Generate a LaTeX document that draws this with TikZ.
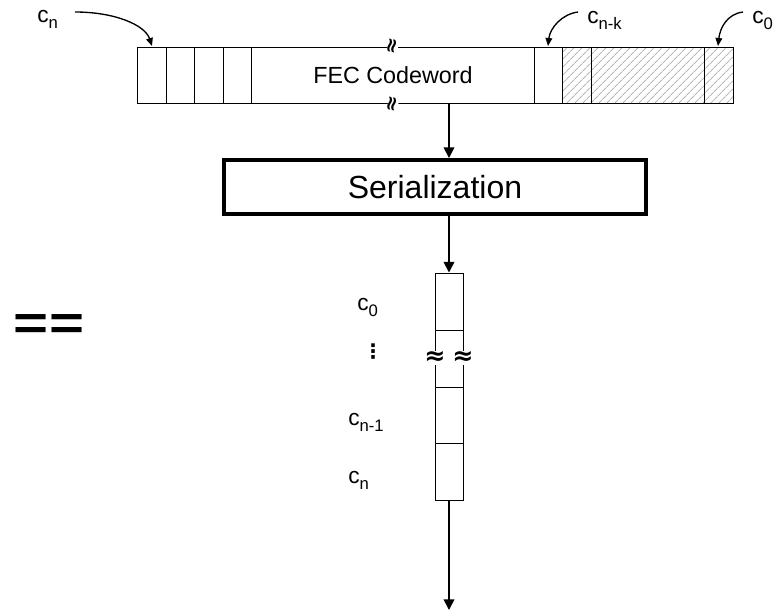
\documentclass[tikz,border=0pt]{standalone}
\usepackage{fontspec}
\setmainfont{Liberation Sans}
\newfontfamily\dejavu{DejaVu Sans}
\usetikzlibrary{arrows.meta,patterns.meta,calc}
\newcommand{\subtxt}[1]{\raisebox{-0.3em}{\fontsize{12.5}{13}\selectfont #1}}
\begin{document}
\begin{tikzpicture}[x=0.75pt,y=-0.75pt,
  thinl/.style={line width=0.75pt},
  arr/.style={line width=1.2pt,-{Triangle[length=8pt,width=8pt]}},
  carr/.style={line width=1pt,-{Triangle[length=6pt,width=5pt]}},
  lbl/.style={font=\fontsize{17}{18}\selectfont, inner sep=0pt, anchor=base west},
  hatch/.style={pattern={Lines[angle=45,distance=4pt,line width=0.8pt]},pattern color=gray!55},
  brk/.style={fill=white,inner sep=0pt,font=\dejavu\bfseries\fontsize{15}{15}\selectfont},
  vbrk/.style={fill=white,inner sep=0pt,font=\dejavu\bfseries\fontsize{19}{19}\selectfont}]
\useasboundingbox (0,0) rectangle (779,611);

% hatched parity area
\fill[hatch] (562,47) rectangle (733,103);
% top codeword bar
\node[draw, thinl, minimum width=447pt, minimum height=42pt, inner sep=0pt] (bar) at (435,75) {};
\foreach \x in {166,194,223,251,534,562,591,704}
  \draw[thinl] (\x,47) -- (\x,103);
\node[font=\fontsize{17.5}{20}\selectfont, anchor=base, inner sep=0pt] (fec) at (393,83) {FEC Codeword};
\node[brk, rotate=78] (b1) at (393,46) {≈};
\node[brk, rotate=78] (b2) at (393,104) {≈};

% labels and curved arrows
\node[lbl] (lcn) at (37,22) {c\subtxt{n}};
\node[lbl] (lcnk) at (587,23) {c\subtxt{n-k}};
\node[lbl] (lc0) at (752,23) {c\subtxt{0}};
\coordinate (s1) at (75,12);  \coordinate (t1) at (152,46);
\coordinate (s2) at (578,12); \coordinate (t2) at (548,46);
\coordinate (s3) at (743,12); \coordinate (t3) at (718,46);
\draw[carr] (s1) .. controls (115,12) and (145,25) .. (t1);
\draw[carr] (s2) .. controls (562,14) and (550,28) .. (t2);
\draw[carr] (s3) .. controls (727,14) and (720,28) .. (t3);

% serialization
\node[draw, line width=3pt, minimum width=316.5pt, minimum height=40.5pt, inner sep=0pt,
  font=\fontsize{24}{28}\selectfont] (ser) at (435,187) {Serialization};

% serial stream
\node[draw, thinl, minimum width=21pt, minimum height=170.25pt, inner sep=0pt] (vbar) at (449,386.5) {};
\foreach \y in {330,387,443}
  \draw[thinl] (435,\y) -- (463,\y);
\node[vbrk] (a1) at (435,358) {≈};
\node[vbrk] (a2) at (463,358) {≈};

\node[lbl] (v0) at (357,310) {c\subtxt{0}};
\node[font=\dejavu\bfseries\fontsize{15}{16}\selectfont, inner sep=0pt] (vd) at (373,352) {⋮};
\node[lbl] (v1) at (348,425) {c\subtxt{n-1}};
\node[lbl] (v2) at (348,483) {c\subtxt{n}};

\node[inner sep=0pt] (eq) at (49,327) {\scalebox{1}[0.8]{\fontsize{45}{45}\selectfont\bfseries ==}};

% arrows
\coordinate (out) at (449,610);
\draw[arr] (bar.south -| vbar.north) -- (ser.north -| vbar.north);
\draw[arr] (ser.south -| vbar.north) -- (vbar.north);
\draw[arr] (vbar.south) -- (out);
\end{tikzpicture}
\end{document}
